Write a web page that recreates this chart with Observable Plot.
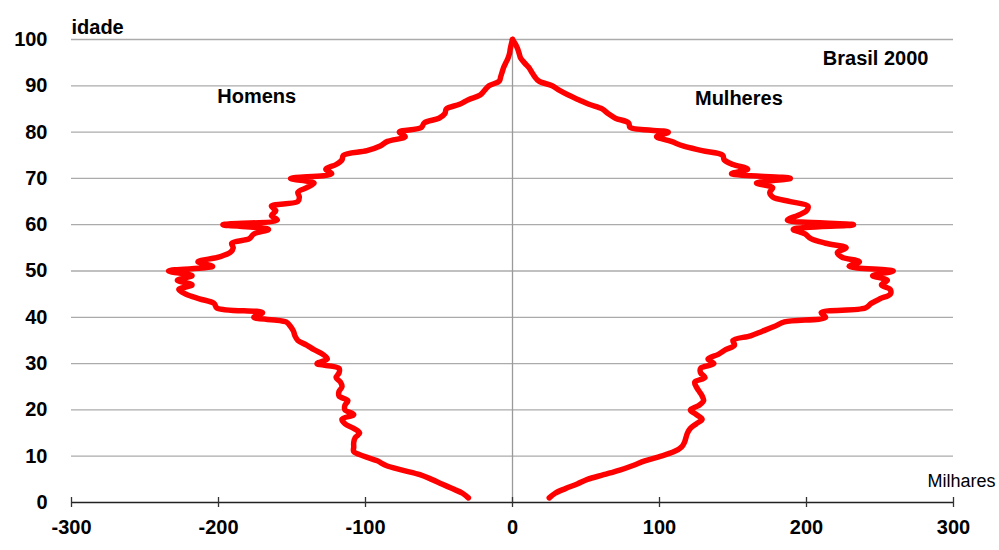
<!DOCTYPE html>
<html><head><meta charset="utf-8">
<script src="https://cdn.jsdelivr.net/npm/d3@7"></script>
<script src="https://cdn.jsdelivr.net/npm/@observablehq/plot@0.6"></script>
<style>
html,body{margin:0;padding:0;background:#fff;}
#chart svg{display:block;background:linear-gradient(#f2f2f2,#f2f2f2) 10px 4px / 989px 546px no-repeat,#fff;}
</style></head><body><div id="chart"></div>
<script>
const idades = d3.range(1, 101);
const homens = [
  30, 34, 41, 48, 55, 63, 75, 86, 92, 101,
  108, 108, 108, 107, 104, 108, 114, 116, 108, 114,
  114, 112, 118, 118, 116, 117, 120, 118, 118, 133,
  126, 129, 135, 140, 146, 148, 149, 151, 154, 176,
  170, 201, 203, 213, 222, 227, 218, 228, 218, 234,
  204, 214, 200, 192, 190, 191, 179, 176, 166, 197,
  160, 164, 161, 164, 146, 145, 146, 140, 135, 151,
  123, 127, 120, 116, 115, 99, 90, 85, 73, 77,
  62, 60, 50, 46, 45, 36, 30, 22, 19, 16,
  9, 8, 7, 6, 4.5, 3, 2, 1.5, 0.8, 0
];
const mulheres = [
  25, 29, 36, 44, 51, 62, 73, 82, 90, 101,
  110, 115, 117, 118, 119, 121, 125, 129, 125, 121,
  127, 130, 129, 127, 125, 124, 131, 128, 128, 137,
  133, 140, 145, 151, 150, 162, 170, 178, 185, 213,
  210, 240, 244, 250, 257, 257, 251, 255, 245, 259,
  229, 236, 224, 221, 227, 213, 203, 199, 191, 232,
  187, 194, 200, 201, 189, 177, 175, 177, 166, 189,
  149, 160, 150, 144, 143, 129, 116, 108, 98, 106,
  80, 79, 70, 65, 61, 52, 45, 38, 32, 27,
  18, 15, 13, 11, 8, 5.5, 4.5, 3.5, 2, 0
];
const xTicks = [-300, -200, -100, 0, 100, 200, 300];
const yTicks = [0, 10, 20, 30, 40, 50, 60, 70, 80, 90, 100];
const rotulos = [
  {texto: "Homens", x: -174, y: 87.7},
  {texto: "Mulheres", x: 154, y: 87.3},
  {texto: "Brasil 2000", x: 247, y: 95.9}
];

const tabela = [
  ...idades.map((a, i) => ({sexo: "Homens", idade: a, valor: -homens[i]})),
  ...idades.map((a, i) => ({sexo: "Mulheres", idade: a, valor: mulheres[i]}))
];

const font = "'Liberation Sans', Arial, sans-serif";

const chart = Plot.plot({
  width: 999,
  height: 550,
  marginLeft: 71,
  marginRight: 46,
  marginTop: 39,
  marginBottom: 48,
  style: {fontFamily: font, background: "transparent", overflow: "visible"},
  x: {domain: [-300, 300], label: null},
  y: {domain: [0, 100], label: null},
  marks: [
    Plot.frame({fill: "white", stroke: null}),
    Plot.ruleY(yTicks.filter(d => d > 0), {stroke: "#ababab", strokeWidth: 1.3}),
    Plot.ruleX([0], {stroke: "#9a9a9a", strokeWidth: 1.3}),
    Plot.ruleY([0], {stroke: "#222", strokeWidth: 1.3}),
    Plot.ruleX(xTicks, {x: d => d, y1: 0, y2: 0, insetTop: -5, insetBottom: -5, stroke: "#333", strokeWidth: 1.3}),
    Plot.axisY({ticks: yTicks, tickSize: 0, tickPadding: 24, fontSize: 20, fontWeight: "bold", fill: "#000", label: null}),
    Plot.axisX({ticks: xTicks, tickSize: 0, tickPadding: 17, fontSize: 20, fontWeight: "bold", fill: "#000", label: null, tickFormat: d => String(d)}),
    Plot.line(tabela, {x: "valor", y: "idade", z: "sexo", stroke: "#ff0000", strokeWidth: 5.5, curve: "catmull-rom", strokeLinecap: "round", strokeLinejoin: "round"}),
    Plot.text(rotulos, {x: "x", y: "y", text: "texto", fontSize: 20, fontWeight: "bold", fill: "#000"}),
    Plot.text(["idade"], {frameAnchor: "top-left", lineAnchor: "middle", dy: -12, textAnchor: "start", fontSize: 20, fontWeight: "bold", fill: "#000"}),
    Plot.text(["Milhares"], {frameAnchor: "bottom-right", lineAnchor: "middle", dx: 8, dy: -21, textAnchor: "middle", fontSize: 18, fill: "#000"})
  ]
});
document.getElementById("chart").appendChild(chart);
</script>
</body></html>
